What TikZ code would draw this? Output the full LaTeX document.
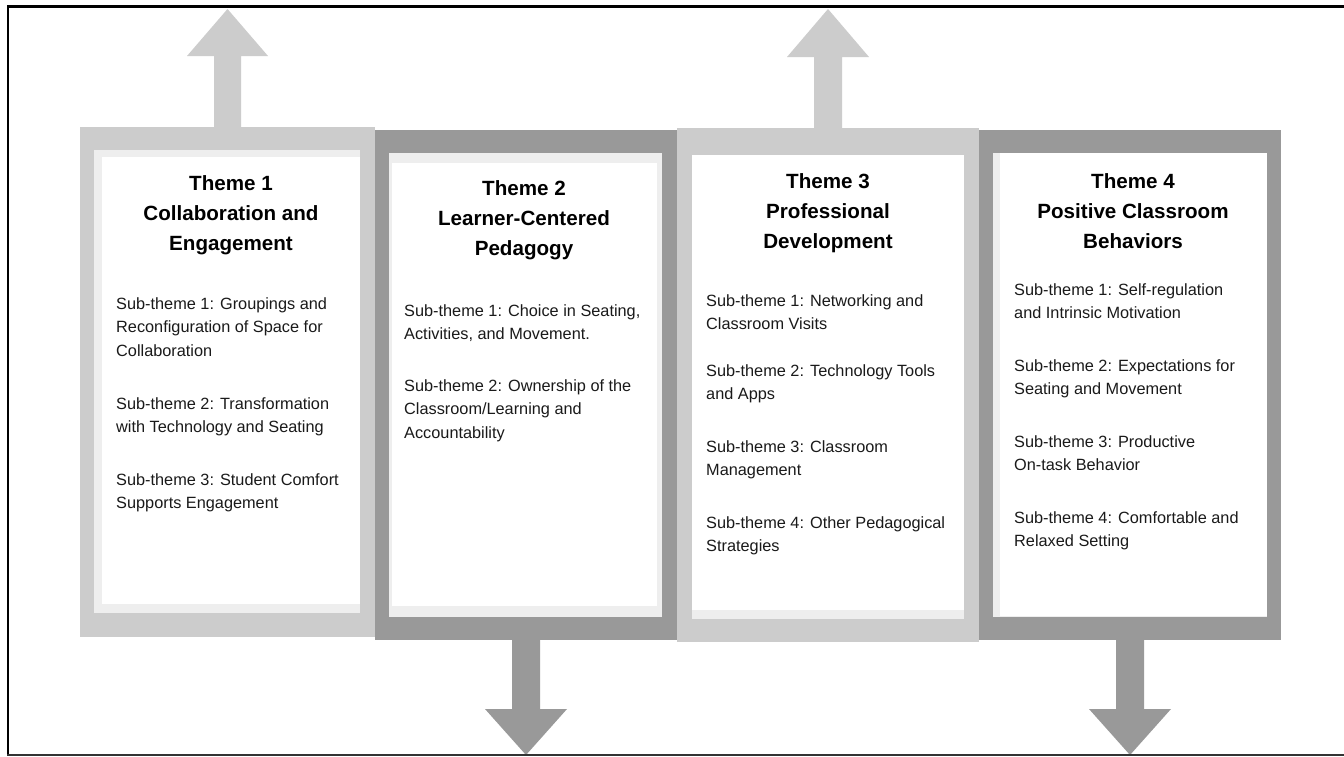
\documentclass[tikz,border=0pt]{standalone}
\usepackage{fontspec}
\setmainfont{Liberation Sans}
\definecolor{lightg}{HTML}{CCCCCC}
\definecolor{darkg}{HTML}{999999}
\definecolor{paleg}{HTML}{EEEEEE}
\definecolor{txt}{HTML}{1A1A1A}
\tikzset{
  panel/.style={inner sep=0pt, outer sep=0pt, draw=none},
  lightpanel/.style={panel, fill=lightg},
  darkpanel/.style={panel, fill=darkg},
  titletext/.style={inner sep=0pt, align=center, text=black,
    font=\bfseries\fontsize{20.6}{30}\selectfont},
  subtext/.style={inner sep=0pt, anchor=north west, align=left, text=txt,
    font=\fontsize{16.3}{23.8}\selectfont},
}
\begin{document}
\begin{tikzpicture}[x=1pt,y=-1pt]
\useasboundingbox (0,0) rectangle (1344,756);
\fill[white] (0,0) rectangle (1344,756);

% theme panels
\node[lightpanel, minimum width=295pt, minimum height=510pt] (b1) at (227.5,382) {};
\fill[paleg] (94,150) rectangle (360,613);
\fill[white] (102,157) rectangle (360,604);

\node[darkpanel, minimum width=302pt, minimum height=510pt] (b2) at (526,385) {};
\fill[paleg] (389,153) rectangle (662,617);
\fill[white] (392,163) rectangle (657,606);

\node[lightpanel, minimum width=302pt, minimum height=514pt] (b3) at (828,385) {};
\fill[paleg] (692,155) rectangle (964,619);
\fill[white] (692,155) rectangle (964,610);

\node[darkpanel, minimum width=302pt, minimum height=510pt] (b4) at (1130,385) {};
\fill[paleg] (993,153) rectangle (1267,617);
\fill[white] (1000,153) rectangle (1267,616);

% block arrows
\fill[lightg] (b1.north) ++(-13.5,0) -- ++(0,-71) -- ++(-27,0) -- ++(40.5,-47)
  -- ++(40.5,47) -- ++(-27,0) -- ++(0,71) -- cycle;
\fill[lightg] (b3.north) ++(-14,0) -- ++(0,-71) -- ++(-27,0) -- ++(41,-48)
  -- ++(41,48) -- ++(-27,0) -- ++(0,71) -- cycle;
\fill[darkg] (b2.south) ++(-14,0) -- ++(0,69) -- ++(-27,0) -- ++(41,46)
  -- ++(41,-46) -- ++(-27,0) -- ++(0,-69) -- cycle;
\fill[darkg] (b4.south) ++(-14,0) -- ++(0,69) -- ++(-27,0) -- ++(41,46)
  -- ++(41,-46) -- ++(-27,0) -- ++(0,-69) -- cycle;

% titles
\node[titletext] (t1) at (231,215) {Theme 1\\Collaboration and\\Engagement};
\node[titletext] (t2) at (524,220) {Theme 2\\Learner-Centered\\Pedagogy};
\node[titletext] (t3) at (828,213) {Theme 3\\Professional\\Development};
\node[titletext] (t4) at (1133,211) {Theme 4\\Positive Classroom\\Behaviors};

% sub-themes
\node[subtext] (s11) at (116,297) {Sub-theme 1: Groupings and\\Reconfiguration of Space for\\Collaboration};
\node[subtext] (s12) at (116,397) {Sub-theme 2: Transformation\\with Technology and Seating};
\node[subtext] (s13) at (116,473) {Sub-theme 3: Student Comfort\\Supports Engagement};

\node[subtext] (s21) at (404,304) {Sub-theme 1: Choice in Seating,\\Activities, and Movement.};
\node[subtext] (s22) at (404,379) {Sub-theme 2: Ownership of the\\Classroom/Learning and\\Accountability};

\node[subtext] (s31) at (706,294) {Sub-theme 1: Networking and\\Classroom Visits};
\node[subtext] (s32) at (706,364) {Sub-theme 2: Technology Tools\\and Apps};
\node[subtext] (s33) at (706,440) {Sub-theme 3: Classroom\\Management};
\node[subtext] (s34) at (706,516) {Sub-theme 4: Other Pedagogical\\Strategies};

\node[subtext] (s41) at (1014,283) {Sub-theme 1: Self-regulation\\and Intrinsic Motivation};
\node[subtext] (s42) at (1014,359) {Sub-theme 2: Expectations for\\Seating and Movement};
\node[subtext] (s43) at (1014,435) {Sub-theme 3: Productive\\On-task Behavior};
\node[subtext] (s44) at (1014,511) {Sub-theme 4: Comfortable and\\Relaxed Setting};

% frame
\draw[line width=3pt, black] (8,6.5) -- (1344,6.5);
\draw[line width=2pt, black] (8,5) -- (8,756);
\draw[line width=1.5pt, black!80] (7,755.2) -- (1344,755.2);
\end{tikzpicture}
\end{document}
